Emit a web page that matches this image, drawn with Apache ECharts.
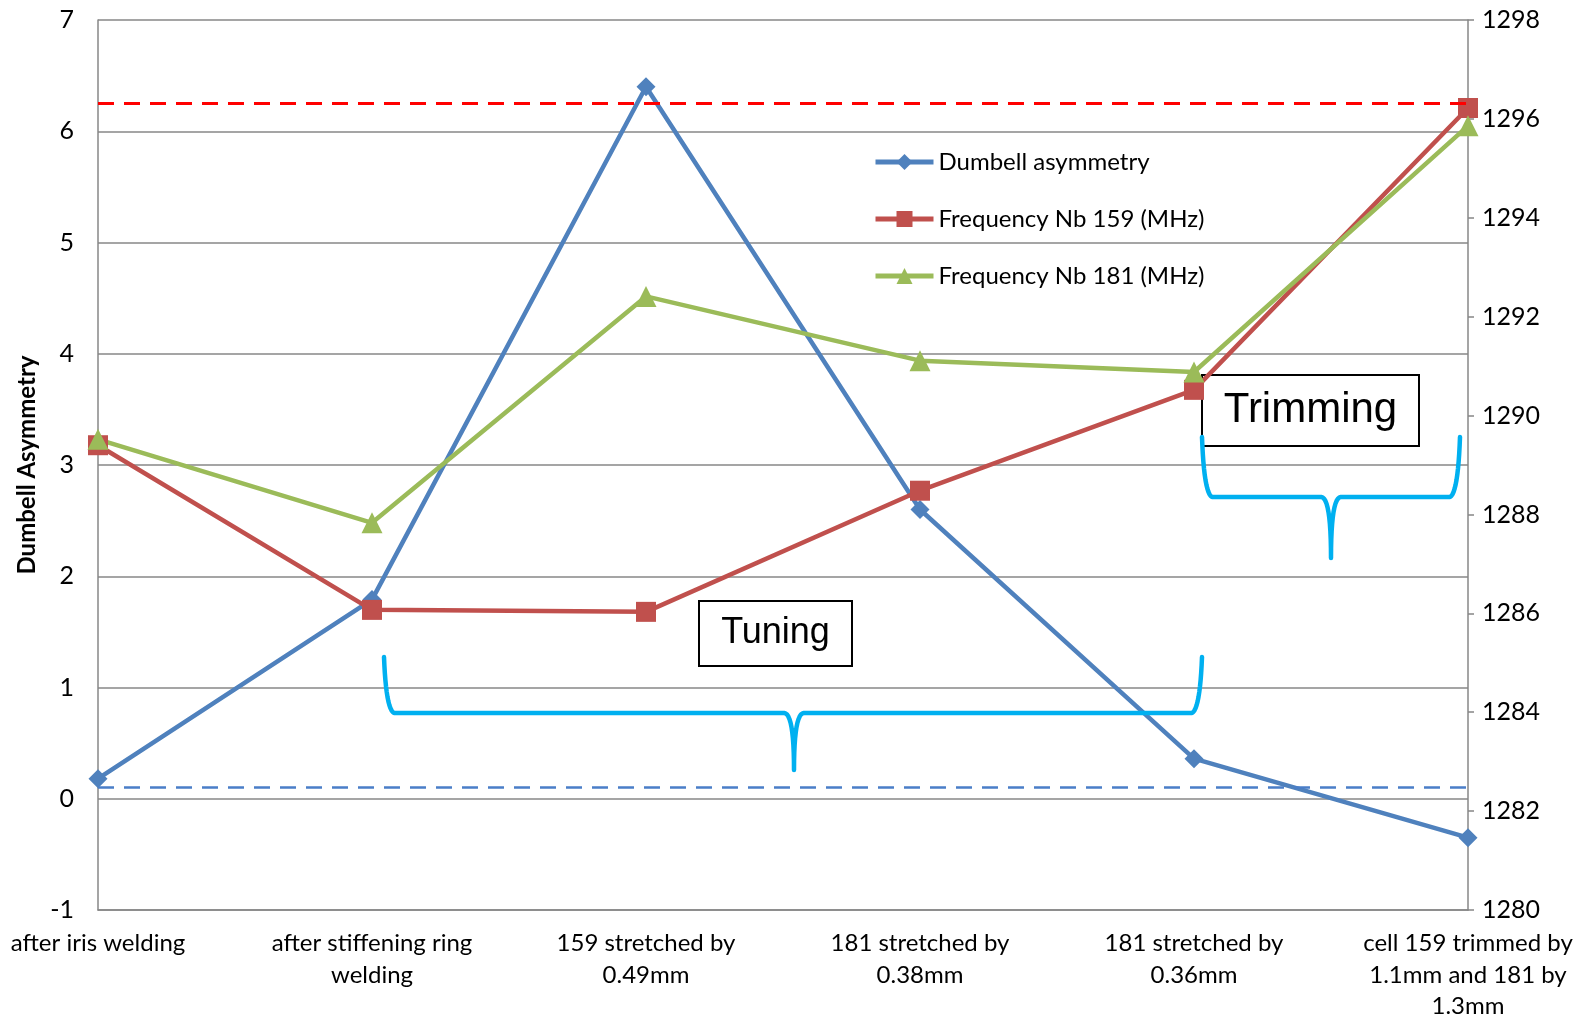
<!DOCTYPE html>
<html>
<head>
<meta charset="utf-8">
<script src="https://cdn.jsdelivr.net/npm/echarts@6/dist/echarts.min.js"></script>
<style>
  html, body { margin: 0; padding: 0; background: #fff; }
  #chart { width: 1581px; height: 1022px; }
</style>
</head>
<body>
<div id="chart"></div>
<script>
// data
const categories = [
  'after iris welding',
  'after stiffening ring\nwelding',
  '159 stretched by\n0.49mm',
  '181 stretched by\n0.38mm',
  '181 stretched by\n0.36mm',
  'cell 159 trimmed by\n1.1mm and 181 by\n1.3mm'
];
const asymmetry = [0.18, 1.79, 6.4, 2.6, 0.36, -0.35];
const freq159 = [1289.4, 1286.07, 1286.03, 1288.48, 1290.52, 1296.22];
const freq181 = [1289.52, 1287.83, 1292.41, 1291.11, 1290.88, 1295.86];
const upperLimit = 6.25;
const lowerLimit = 0.1;

const FONT = 'Lato';
const GRID_GRAY = '#878787';

// quadratic curve sampled into points
function quad(p0, c, p1, pts) {
  for (let i = 1; i <= 12; i++) {
    const t = i / 12, u = 1 - t;
    pts.push([u * u * p0[0] + 2 * u * t * c[0] + t * t * p1[0],
              u * u * p0[1] + 2 * u * t * c[1] + t * t * p1[1]]);
  }
}

// curly brace opening downwards, tip at the middle
function brace(x0, x1, top, h, xm, tip) {
  const r = 10;
  const pts = [[x0, top]];
  quad([x0, top], [x0 + 2, h - 4], [x0 + r, h], pts);
  pts.push([xm - r, h]);
  quad([xm - r, h], [xm, h], [xm, tip], pts);
  quad([xm, tip], [xm, h], [xm + r, h], pts);
  pts.push([x1 - r, h]);
  quad([x1 - r, h], [x1 - 2, h - 4], [x1, top], pts);
  return {
    type: 'polyline', z: 90,
    shape: { points: pts },
    style: { fill: null, stroke: '#00B0F0', lineWidth: 4.5, lineCap: 'round', lineJoin: 'round' }
  };
}

function textBox(x, y, w, h, text, size) {
  return {
    type: 'group', z: 100,
    children: [
      { type: 'rect', shape: { x: x, y: y, width: w, height: h },
        style: { fill: '#fff', stroke: '#000', lineWidth: 2 } },
      { type: 'text', x: x + w / 2, y: y + h / 2,
        style: { text: text, font: size + 'px "Liberation Sans", Arial, sans-serif',
                 fill: '#000', align: 'center', verticalAlign: 'middle' } }
    ]
  };
}

const chart = echarts.init(document.getElementById('chart'));
chart.setOption({
  animation: false,
  backgroundColor: '#fff',
  textStyle: { fontFamily: FONT },
  grid: { left: 98, right: 113, top: 20, bottom: 112, outerBoundsMode: 'none', containLabel: false },
  legend: {
    orient: 'vertical',
    left: 868, top: 145,
    itemWidth: 58, itemHeight: 20, itemGap: 33,
    lineStyle: { width: 5 },
    textStyle: { fontFamily: FONT, fontSize: 24, color: '#000' },
    data: ['Dumbell asymmetry', 'Frequency Nb 159 (MHz)', 'Frequency Nb 181 (MHz)']
  },
  xAxis: {
    type: 'category',
    data: categories,
    boundaryGap: false,
    axisLine: { onZero: false, lineStyle: { color: GRID_GRAY, width: 1.5 } },
    axisTick: { show: false },
    axisLabel: { interval: 0, color: '#000', fontSize: 24, lineHeight: 31.5, margin: 18, fontFamily: FONT }
  },
  yAxis: [
    {
      type: 'value', min: -1, max: 7, interval: 1,
      name: 'Dumbell Asymmetry', nameLocation: 'middle', nameGap: 56, nameRotate: 90,
      nameTextStyle: { fontFamily: FONT, fontSize: 24, fontWeight: 'bold', color: '#000' },
      axisLine: { show: true, lineStyle: { color: GRID_GRAY, width: 1.5 } },
      axisTick: { show: false },
      axisLabel: { color: '#000', fontSize: 25, margin: 24, fontFamily: FONT },
      splitLine: { lineStyle: { color: GRID_GRAY, width: 1.5 } }
    },
    {
      type: 'value', min: 1280, max: 1298, interval: 2,
      position: 'right',
      axisLine: { show: true, lineStyle: { color: GRID_GRAY, width: 1.5 } },
      axisTick: { show: true, length: 6, lineStyle: { color: GRID_GRAY, width: 1.5 } },
      axisLabel: { color: '#000', fontSize: 25, margin: 14, fontFamily: FONT,
                   formatter: v => String(v) },
      splitLine: { show: false }
    }
  ],
  series: [
    {
      name: 'Dumbell asymmetry', type: 'line', yAxisIndex: 0,
      data: asymmetry,
      symbol: 'diamond', symbolSize: 19,
      lineStyle: { color: '#4F81BD', width: 4.5 },
      itemStyle: { color: '#4F81BD' },
      markLine: {
        silent: true, symbol: 'none', label: { show: false },
        data: [
          { yAxis: upperLimit, lineStyle: { color: '#FF0000', width: 3, type: [16, 10] } },
          { yAxis: lowerLimit, lineStyle: { color: '#4A7EC8', width: 2.5, type: [16, 10] } }
        ]
      }
    },
    {
      name: 'Frequency Nb 159 (MHz)', type: 'line', yAxisIndex: 1,
      data: freq159,
      symbol: 'rect', symbolSize: 20,
      lineStyle: { color: '#C0504D', width: 4.5 },
      itemStyle: { color: '#C0504D' }
    },
    {
      name: 'Frequency Nb 181 (MHz)', type: 'line', yAxisIndex: 1,
      data: freq181,
      symbol: 'triangle', symbolSize: 21,
      lineStyle: { color: '#9BBB59', width: 4.5 },
      itemStyle: { color: '#9BBB59' }
    }
  ],
  graphic: [
    brace(384, 1202, 657, 713, 794, 770),
    brace(1202, 1460, 437, 497, 1331, 558),
    textBox(699, 601, 153, 65, 'Tuning', 36),
    textBox(1202, 375, 217, 71, 'Trimming', 42)
  ]
});
</script>
</body>
</html>
